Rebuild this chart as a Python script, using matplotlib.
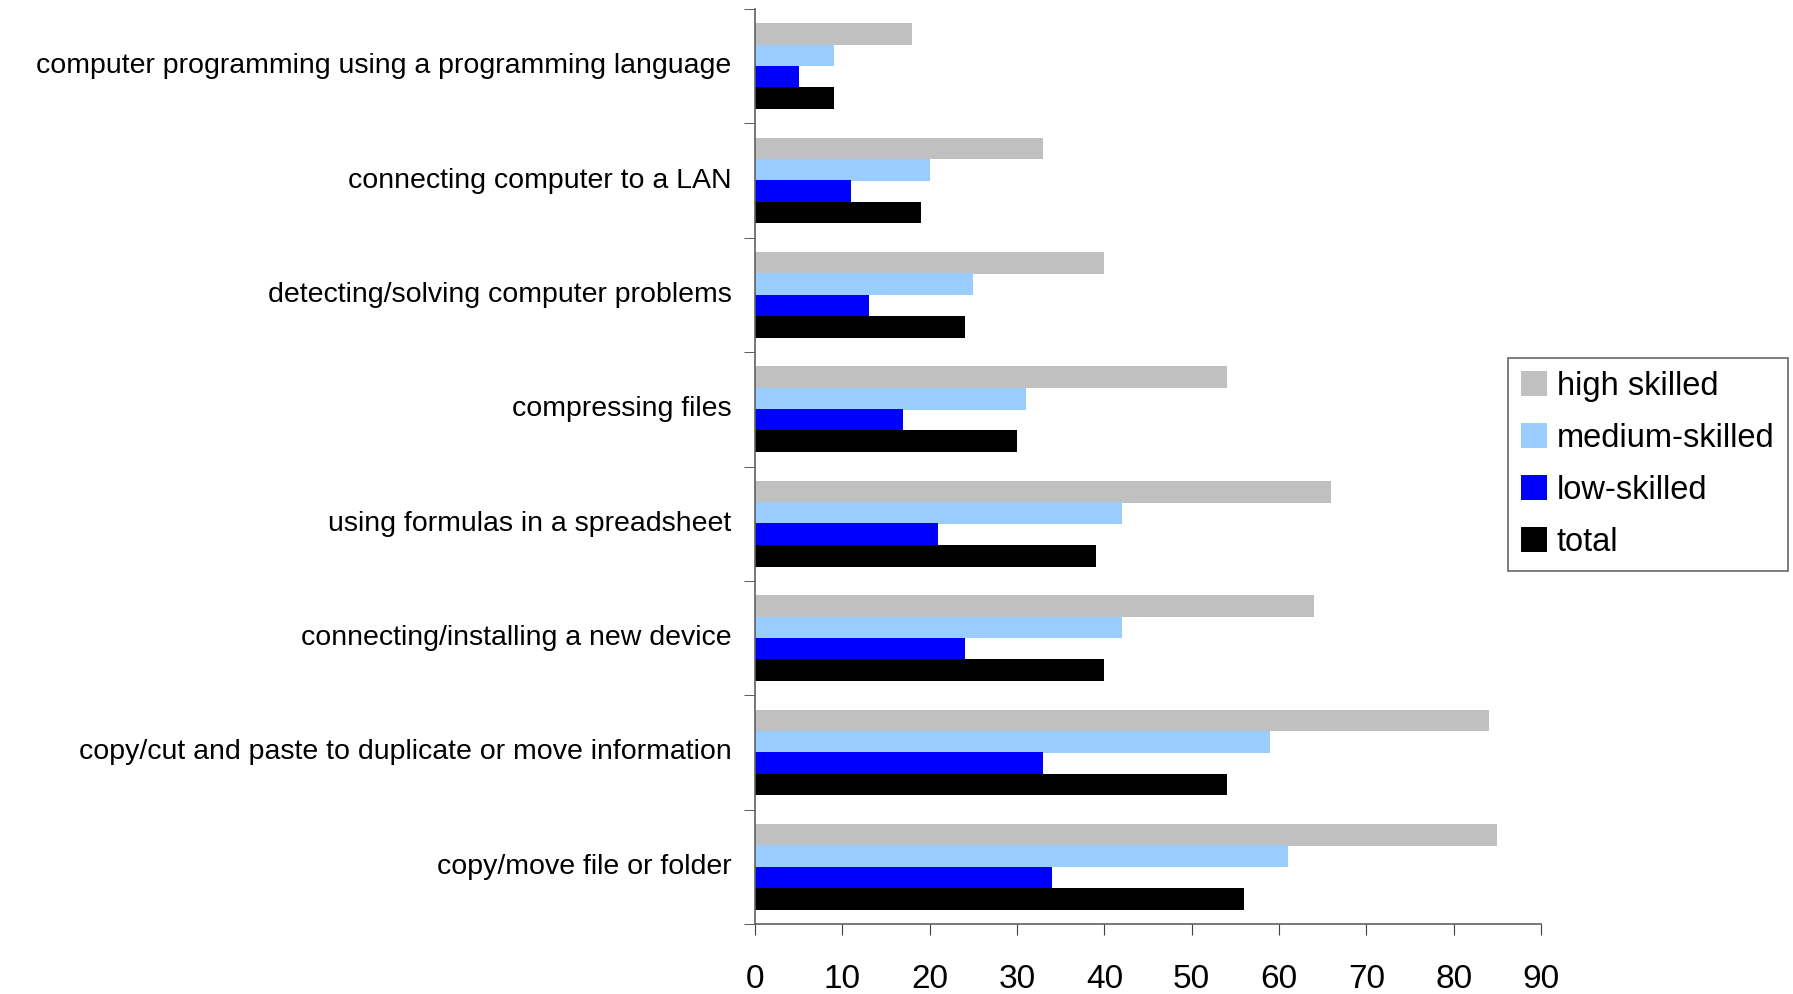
import numpy as np
import matplotlib.pyplot as plt
from matplotlib.transforms import ScaledTranslation

plt.rcParams['font.family'] = ['Liberation Sans', 'DejaVu Sans']

# ICT tasks performed, by skill level (%)
tasks = [
    'computer programming using a programming language',
    'connecting computer to a LAN',
    'detecting/solving computer problems',
    'compressing files',
    'using formulas in a spreadsheet',
    'connecting/installing a new device',
    'copy/cut and paste to duplicate or move information',
    'copy/move file or folder',
]
high_skilled = [18, 33, 40, 54, 66, 64, 84, 85]
medium_skilled = [9, 20, 25, 31, 42, 42, 59, 61]
low_skilled = [5, 11, 13, 17, 21, 24, 33, 34]
total = [9, 19, 24, 30, 39, 40, 54, 56]

series = [
    ('high skilled', high_skilled, '#c0c0c0'),
    ('medium-skilled', medium_skilled, '#99ccff'),
    ('low-skilled', low_skilled, '#0000ff'),
    ('total', total, '#000000'),
]
offsets = [-0.28, -0.093, 0.093, 0.28]
bar_h = 0.19

fig = plt.figure(figsize=(17.93, 9.94), dpi=100)
ax = fig.add_axes([755 / 1793, 1 - 924 / 994, (1541 - 755) / 1793, (924 - 9) / 994])

y = np.arange(len(tasks))
for (name, vals, color), off in zip(series, offsets):
    ax.barh(y + off, vals, height=bar_h, color=color, label=name)

ax.set_ylim(len(tasks) - 0.5, -0.5)
ax.set_xlim(0, 90)
ax.set_xticks(np.arange(0, 91, 10))
ax.tick_params(axis='x', labelsize=24, length=8, direction='out', pad=21, color='#404040')

ax.set_yticks(y)
ax.set_yticklabels(tasks, fontsize=20.5)
ax.tick_params(axis='y', which='major', length=0, pad=17)
ax.set_yticks(np.arange(-0.5, len(tasks)), minor=True)
ax.tick_params(axis='y', which='minor', length=8, color='#404040')

# nudge category labels up a little
shift = ScaledTranslation(0, 3 / 100, fig.dpi_scale_trans)
for lbl in ax.get_yticklabels():
    lbl.set_transform(lbl.get_transform() + shift)

for side in ['top', 'right']:
    ax.spines[side].set_visible(False)
for side in ['left', 'bottom']:
    ax.spines[side].set_color('#606060')
    ax.spines[side].set_linewidth(1.2)

leg = fig.legend(loc='upper left', bbox_to_anchor=(1508 / 1793, 1 - 358 / 994),
                 fontsize=23.5, frameon=True, fancybox=False, edgecolor='#404040',
                 handlelength=0.8, handleheight=0.8, handletextpad=0.3,
                 labelspacing=0.64, borderpad=0.4, borderaxespad=0)
leg.get_frame().set_linewidth(1.2)

fig.savefig('out.png', dpi=100)
